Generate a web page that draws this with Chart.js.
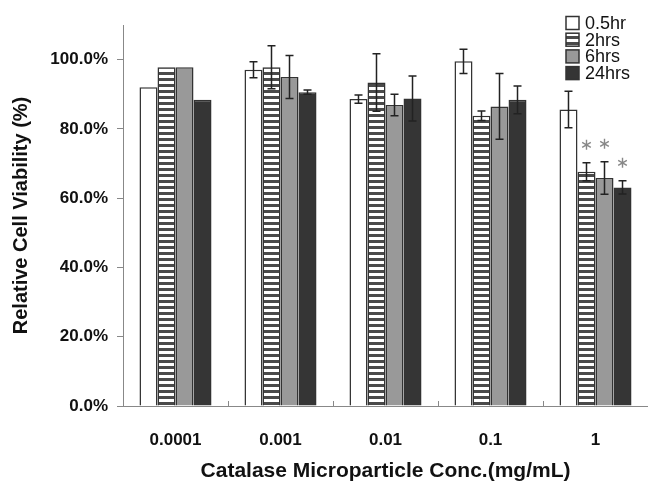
<!DOCTYPE html>
<html>
<head>
<meta charset="utf-8">
<script src="https://cdn.jsdelivr.net/npm/chart.js@4.4.1/dist/chart.umd.min.js"></script>
<style>
  html, body { margin: 0; padding: 0; background: #fff; }
  #wrap { width: 648px; height: 484px; position: relative; }
</style>
</head>
<body>
<div id="wrap"><canvas id="viabilityChart"></canvas></div>
<script>
// data (percent)
const concLabels = ['0.0001', '0.001', '0.01', '0.1', '1'];
const seriesNames = ['0.5hr', '2hrs', '6hrs', '24hrs'];
const hr05 = [92.0, 97.1, 88.6, 99.5, 85.6];
const hr2 = [97.8, 97.8, 93.4, 83.8, 67.6];
const hr6 = [97.8, 95.0, 86.9, 86.5, 65.8];
const hr24 = [88.4, 90.6, 88.8, 88.4, 63.1];
const err05 = [0, 2.3, 1.2, 3.5, 5.3];
const err2 = [0, 6.2, 8.3, 1.4, 2.6];
const err6 = [0, 6.2, 3.1, 9.5, 4.7];
const err24 = [0, 0.6, 6.5, 4.0, 1.9];
// significance marks (one flag per category)
const sig2 = [false, false, false, false, true];
const sig6 = [false, false, false, false, true];
const sig24 = [false, false, false, false, true];
const yTicks = [0, 20, 40, 60, 80, 100];

const FONT = '"Liberation Sans", Arial, Helvetica, sans-serif';

// horizontal stripe fill for the 2hrs bars
function stripes() {
    const c = document.createElement('canvas');
    c.width = 4; c.height = 6;
    const g = c.getContext('2d');
    g.fillStyle = '#fff';
    g.fillRect(0, 0, 4, 6);
    g.fillStyle = '#4a4a4a';
    g.fillRect(0, 0, 4, 3);
    return g.createPattern(c, 'repeat');
}
const stripeFill = stripes();

const fills = ['#ffffff', stripeFill, '#999999', '#353535'];
const values = [hr05, hr2, hr6, hr24];
const errors = [err05, err2, err6, err24];
const sigs = [null, sig2, sig6, sig24];

const extras = {
    id: 'extras',
    afterDatasetsDraw(chart) {
        const ctx = chart.ctx;
        const y = chart.scales.y;
        const x = chart.scales.x;
        const area = chart.chartArea;
        ctx.save();

        // error bars
        ctx.strokeStyle = '#222';
        ctx.lineWidth = 1.5;
        values.forEach(function(vals, di) {
            const meta = chart.getDatasetMeta(di);
            vals.forEach(function(v, i) {
                const e = errors[di][i];
                if (!e) return;
                const bx = meta.data[i].x;
                const top = y.getPixelForValue(v + e);
                const bot = y.getPixelForValue(v - e);
                ctx.beginPath();
                ctx.moveTo(bx, top); ctx.lineTo(bx, bot);
                ctx.moveTo(bx - 4, top); ctx.lineTo(bx + 4, top);
                ctx.moveTo(bx - 4, bot); ctx.lineTo(bx + 4, bot);
                ctx.stroke();
            });
        });

        // asterisks
        ctx.strokeStyle = '#888';
        ctx.lineWidth = 1.4;
        sigs.forEach(function(flags, di) {
            if (!flags) return;
            const meta = chart.getDatasetMeta(di);
            flags.forEach(function(f, i) {
                if (!f) return;
                const cx = meta.data[i].x;
                const cy = y.getPixelForValue(values[di][i] + errors[di][i]) - 18;
                const r = 5;
                ctx.beginPath();
                for (let k = 0; k < 3; k++) {
                    const a = Math.PI / 2 + k * Math.PI / 3;
                    ctx.moveTo(cx + r * Math.cos(a), cy + r * Math.sin(a));
                    ctx.lineTo(cx - r * Math.cos(a), cy - r * Math.sin(a));
                }
                ctx.stroke();
            });
        });

        // inward tick marks between categories
        const catW = x.getPixelForTick(1) - x.getPixelForTick(0);
        ctx.strokeStyle = '#888';
        ctx.lineWidth = 1;
        for (let i = 0; i < concLabels.length; i++) {
            const bx = Math.round(x.getPixelForTick(i) + catW / 2) + 0.5;
            ctx.beginPath();
            ctx.moveTo(bx, area.bottom);
            ctx.lineTo(bx, area.bottom - 5);
            ctx.stroke();
        }

        // legend
        const lx = 566, ly = 23, step = 16.7, box = 13;
        ctx.font = '18px ' + FONT;
        ctx.textBaseline = 'middle';
        ctx.textAlign = 'left';
        seriesNames.forEach(function(name, i) {
            const cy = ly + i * step;
            ctx.fillStyle = fills[i];
            ctx.fillRect(lx, cy - box / 2, box, box);
            ctx.strokeStyle = '#333';
            ctx.lineWidth = 1.5;
            ctx.strokeRect(lx, cy - box / 2, box, box);
            ctx.fillStyle = '#111';
            ctx.fillText(name, lx + 19, cy + 1);
        });

        ctx.restore();
    }
};

const ctx = document.getElementById('viabilityChart').getContext('2d');
const viabilityChart = new Chart(ctx, {
    type: 'bar',
    data: {
        labels: concLabels,
        datasets: seriesNames.map(function(name, i) {
            return {
                label: name,
                data: values[i],
                backgroundColor: fills[i],
                borderColor: '#333',
                borderWidth: 1.5,
                borderSkipped: 'bottom',
                categoryPercentage: 0.686,
                barPercentage: 1.0
            };
        })
    },
    options: {
        responsive: true,
        maintainAspectRatio: false,
        animation: false,
        layout: { padding: { top: 25, right: 0, left: 0, bottom: 0 } },
        plugins: {
            legend: { display: false },
            tooltip: { enabled: false }
        },
        scales: {
            x: {
                grid: { display: false },
                border: { display: true, color: '#888', width: 1 },
                ticks: {
                    color: '#111',
                    font: { family: FONT, size: 17, weight: 'bold' },
                    padding: 16,
                    maxRotation: 0
                },
                title: {
                    display: true,
                    text: 'Catalase Microparticle Conc.(mg/mL)',
                    color: '#111',
                    font: { family: FONT, size: 21, weight: 'bold' },
                    padding: { top: 0, bottom: 0 }
                },
                afterFit: function(scale) { scale.height = 78; }
            },
            y: {
                min: 0,
                max: 110,
                afterBuildTicks: function(scale) {
                    scale.ticks = yTicks.map(function(v) { return { value: v }; });
                },
                grid: { drawOnChartArea: false, drawTicks: true, tickLength: 6, color: '#888' },
                border: { display: true, color: '#888', width: 1 },
                ticks: {
                    color: '#111',
                    font: { family: FONT, size: 17, weight: 'bold' },
                    padding: 9,
                    callback: function(v) { return v.toFixed(1) + '%'; }
                },
                title: {
                    display: true,
                    text: 'Relative Cell Viability (%)',
                    color: '#111',
                    font: { family: FONT, size: 20, weight: 'bold' },
                    padding: { top: 9, bottom: 0 }
                },
                afterFit: function(scale) { scale.width = 123; }
            }
        }
    },
    plugins: [extras]
});
</script>
</body>
</html>
